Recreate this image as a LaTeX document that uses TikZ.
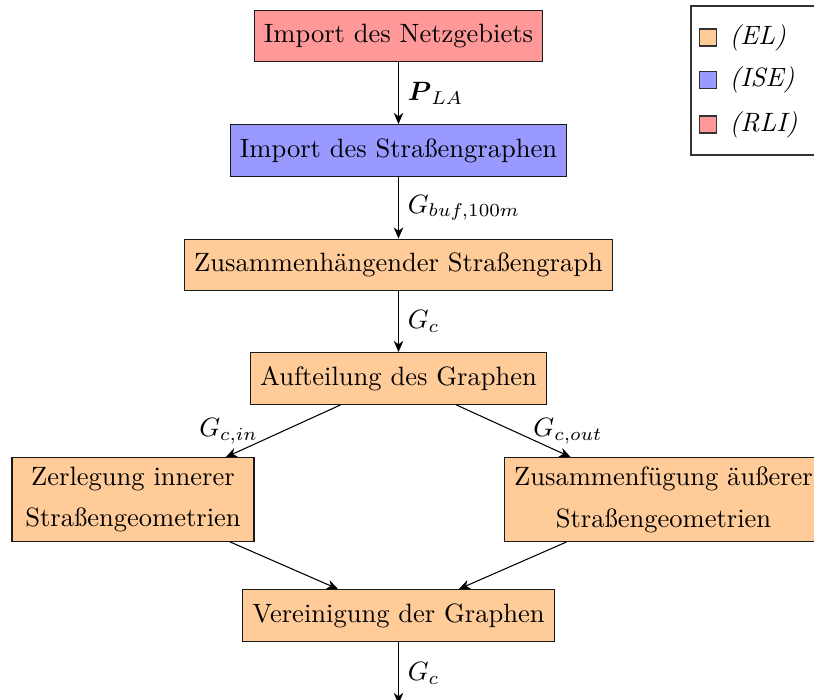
\documentclass[tikz,border=0pt]{standalone}
\usepackage{fontspec}
\usepackage{amsmath}
\usetikzlibrary{arrows.meta}
\definecolor{cEL}{RGB}{255,204,153}
\definecolor{cISE}{RGB}{153,153,255}
\definecolor{cRLI}{RGB}{255,153,153}
\tikzset{
  procbox/.style={draw=black!90, line width=0.45pt, minimum height=19.5pt, inner xsep=3.6pt, inner ysep=3.33pt, align=center},
  flow/.style={-{Stealth[length=4.2pt, width=3.6pt, inset=1.3pt]}, line width=0.4pt},
  legsq/.style={draw=black!80, minimum width=6.6pt, minimum height=6.4pt, inner sep=0pt},
  legtx/.style={anchor=west, inner sep=0pt, font=\itshape},
}
\begin{document}
\begin{tikzpicture}[x=0.377pt, y=-0.377pt]
\useasboundingbox (0,0) rectangle (814,700);
% process nodes
\node[procbox, fill=cRLI] (netz) at (398.5,36) {Import des Netzgebiets};
\node[procbox, fill=cISE] (str) at (398.5,150.5) {Import des Straßengraphen};
\node[procbox, fill=cEL] (zus) at (398.5,265) {Zusammenhängender Straßengraph};
\node[procbox, fill=cEL] (auf) at (398.5,378.5) {Aufteilung des Graphen};
\node[procbox, fill=cEL, minimum width=91.2pt] (zer) at (133,499.5) {Zerlegung innerer\\[3.8pt]Straßengeometrien};
\node[procbox, fill=cEL, minimum width=118.5pt] (zusf) at (663.5,499.5) {Zusammenfügung äußerer\\[3.8pt]Straßengeometrien};
\node[procbox, fill=cEL] (ver) at (398.5,615.5) {Vereinigung der Graphen};
\coordinate (out) at (398.5,704);
% connectors
\draw[flow] (netz) -- node[midway, right] {$\boldsymbol{P}_{LA}$} (str);
\draw[flow] (str) -- node[midway, right] {$G_{buf,100m}$} (zus);
\draw[flow] (zus) -- node[midway, right] {$G_c$} (auf);
\draw[flow] (auf) -- node[midway, left=6pt] {$G_{c,in}$} (zer);
\draw[flow] (auf) -- node[midway, right=4pt] {$G_{c,out}$} (zusf);
\draw[flow] (zer) -- (ver);
\draw[flow] (zusf) -- (ver);
\draw[flow] (ver) -- node[midway, right] {$G_c$} (out);
% legend
\draw[black!80, line width=0.45pt] (691,6) rectangle (840,155);
\node[legsq, fill=cEL] (sqEL) at (708,37.5) {};
\node[legsq, fill=cISE] (sqISE) at (708,80) {};
\node[legsq, fill=cRLI] (sqRLI) at (708,124.5) {};
\node[legtx] (tEL) at (729,37.5) {(EL)};
\node[legtx] (tISE) at (729,80) {(ISE)};
\node[legtx] (tRLI) at (729,124.5) {(RLI)};
\end{tikzpicture}
\end{document}
